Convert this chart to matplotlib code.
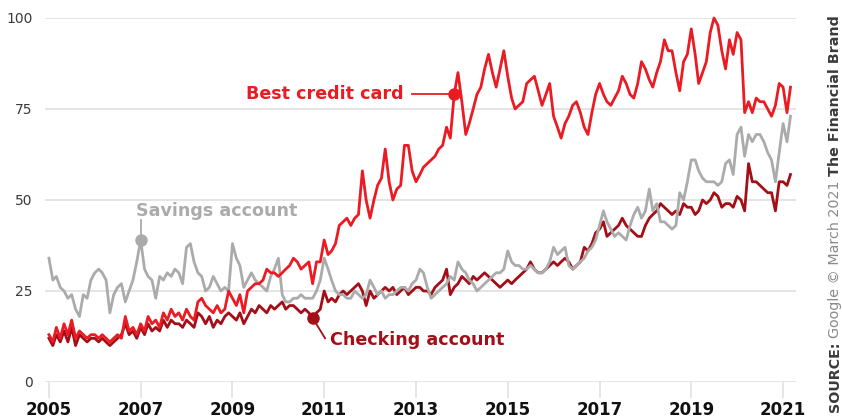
import numpy as np
import pandas as pd
import matplotlib
matplotlib.use('Agg')
import matplotlib.pyplot as plt

# Monthly Google search interest, Jan 2005 - Mar 2021
credit_card = [
    13, 11, 15, 12, 16, 13, 17, 12, 14, 13, 12, 13,   # 2005
    13, 12, 13, 12, 11, 12, 13, 12, 18, 14, 15, 13,   # 2006
    16, 14, 18, 16, 17, 15, 19, 17, 20, 18, 19, 17,   # 2007
    20, 18, 17, 22, 23, 21, 20, 19, 21, 19, 20, 25,   # 2008
    23, 21, 24, 19, 25, 26, 27, 27, 28, 31, 30, 30,   # 2009
    29, 30, 31, 32, 34, 33, 31, 32, 33, 27, 33, 33,   # 2010
    39, 35, 36, 38, 43, 44, 45, 43, 45, 46, 58, 50,   # 2011
    45, 50, 54, 56, 64, 55, 50, 53, 54, 65, 65, 58,   # 2012
    55, 57, 59, 60, 61, 62, 64, 65, 70, 67, 79, 85,   # 2013
    77, 68, 71, 75, 79, 81, 86, 90, 85, 81, 86, 91,   # 2014
    84, 78, 75, 76, 77, 82, 83, 84, 80, 76, 79, 82,   # 2015
    73, 70, 67, 71, 73, 76, 77, 74, 70, 68, 74, 79,   # 2016
    82, 79, 77, 76, 78, 80, 84, 82, 79, 78, 82, 88,   # 2017
    86, 83, 81, 85, 88, 94, 91, 91, 85, 80, 88, 90,   # 2018
    97, 90, 82, 85, 88, 96, 100, 98, 91, 86, 94, 90,  # 2019
    96, 94, 74, 77, 74, 78, 77, 77, 75, 73, 76, 82,   # 2020
    81, 74, 81,                                       # 2021
]
savings = [
    34, 28, 29, 26, 25, 23, 24, 20, 18, 24, 23, 28,
    30, 31, 30, 28, 19, 24, 26, 27, 22, 25, 28, 33,
    39, 31, 29, 28, 23, 29, 28, 30, 29, 31, 30, 27,
    37, 38, 33, 30, 29, 25, 26, 29, 27, 25, 26, 25,
    38, 34, 32, 26, 28, 30, 28, 27, 26, 25, 29, 31,
    34, 24, 22, 22, 23, 23, 24, 23, 23, 23, 25, 28,
    34, 31, 28, 25, 24, 24, 23, 23, 25, 24, 23, 24,
    28, 26, 24, 25, 23, 24, 24, 25, 26, 26, 25, 27,
    28, 31, 30, 26, 23, 24, 25, 26, 27, 29, 28, 33,
    31, 30, 28, 27, 25, 26, 27, 28, 29, 30, 30, 31,
    36, 33, 32, 32, 31, 31, 32, 31, 30, 30, 31, 33,
    37, 35, 36, 37, 32, 31, 32, 33, 34, 36, 37, 39,
    43, 47, 44, 42, 40, 41, 40, 39, 43, 46, 48, 45,
    47, 53, 47, 49, 44, 44, 43, 42, 43, 52, 50, 55,
    61, 61, 58, 56, 55, 55, 55, 54, 55, 60, 61, 57,
    68, 70, 62, 68, 66, 68, 68, 66, 63, 61, 55, 63,
    71, 66, 73,
]
checking = [
    12, 10, 13, 11, 14, 11, 15, 10, 13, 12, 11, 12,
    12, 11, 12, 11, 10, 11, 12, 13, 16, 13, 14, 12,
    15, 13, 16, 14, 15, 14, 17, 15, 17, 16, 16, 15,
    17, 16, 15, 19, 18, 16, 18, 15, 17, 16, 18, 19,
    18, 17, 19, 16, 18, 20, 19, 21, 20, 19, 21, 20,
    21, 22, 20, 21, 21, 20, 19, 20, 19, 17.6, 19, 20,
    25, 22, 23, 22, 24, 25, 24, 25, 26, 27, 25, 21,
    25, 23, 24, 25, 26, 25, 26, 24, 25, 26, 24, 25,
    26, 26, 25, 25, 24, 26, 27, 28, 31, 24, 26, 27,
    29, 28, 27, 29, 28, 29, 30, 29, 28, 27, 26, 27,
    28, 27, 28, 29, 30, 31, 33, 31, 30, 30, 31, 32,
    33, 32, 33, 34, 33, 31, 32, 33, 37, 36, 38, 41,
    42, 44, 40, 41, 42, 43, 45, 43, 42, 41, 40, 40,
    43, 45, 46, 47, 49, 48, 47, 46, 47, 46, 49, 48,
    48, 46, 47, 50, 49, 50, 52, 51, 48, 49, 49, 48,
    51, 50, 47, 60, 55, 55, 54, 53, 52, 52, 47, 55,
    55, 54, 57,
]
year_ticks = list(range(2005, 2022, 2))
y_ticks = [0, 25, 50, 75, 100]

RED = '#ea1b23'
DARK_RED = '#a30e17'
GREY = '#ababab'

months = pd.date_range('2005-01-01', periods=len(credit_card), freq='MS')

fig = plt.figure(figsize=(8.42, 4.2), dpi=100)
ax = fig.add_axes([0.0538, 0.0905, 0.8913, 0.8667])

# lines
kw = dict(lw=2.0, solid_joinstyle='round', clip_on=False)
ax.plot(months, checking, color=DARK_RED, zorder=3, **kw)
ax.plot(months, savings, color=GREY, zorder=4, **kw)
ax.plot(months, credit_card, color=RED, zorder=5, **kw)

ax.set_xlim(pd.Timestamp('2004-12-03'), pd.Timestamp('2021-04-12'))
ax.set_ylim(0, 100)

ax.set_yticks(y_ticks)
ax.set_yticklabels([str(v) for v in y_ticks])
ax.yaxis.grid(True, color='#e2e2e2', lw=1.3)
ax.set_axisbelow(True)
ax.tick_params(axis='y', length=0, pad=9, labelsize=10, labelcolor='#3a3a3a')

ax.set_xticks([pd.Timestamp(f'{y}-01-01') for y in year_ticks])
ax.set_xticklabels([str(y) for y in year_ticks], fontweight='bold', fontsize=12)
ax.tick_params(axis='x', length=11.5, width=1.2, color='#e2e2e2', pad=2, labelcolor='#111111')

for s in ax.spines.values():
    s.set_visible(False)

# direct labels
i_cc, i_sav, i_chk = 106, 24, 69

ax.plot([pd.Timestamp('2012-11-28'), months[i_cc]], [credit_card[i_cc]] * 2, color=RED, lw=1.3, zorder=6)
ax.plot(months[i_cc], credit_card[i_cc], 'o', color=RED, ms=8, zorder=7)
ax.text(pd.Timestamp('2012-09-27'), credit_card[i_cc], 'Best credit card', color=RED,
        fontsize=12.6, fontweight='bold', ha='right', va='center')

ax.plot([months[i_sav]] * 2, [savings[i_sav], 44.5], color=GREY, lw=1.3, zorder=6)
ax.plot(months[i_sav], savings[i_sav], 'o', color=GREY, ms=8, zorder=7)
ax.text(pd.Timestamp('2008-08-28'), 47, 'Savings account', color=GREY,
        fontsize=12.6, fontweight='bold', ha='center', va='center')

ax.plot([months[i_chk], pd.Timestamp('2011-01-08')], [checking[i_chk], 12], color=DARK_RED, lw=1.3, zorder=6)
ax.plot(months[i_chk], checking[i_chk], 'o', color=DARK_RED, ms=8, zorder=7)
ax.text(pd.Timestamp('2011-02-17'), 11.5, 'Checking account', color=DARK_RED,
        fontsize=12.6, fontweight='bold', ha='left', va='center')

# vertical source note
t1 = fig.text(0.9917, 0.018, 'SOURCE:', rotation=90, ha='center', va='bottom',
              fontsize=10.3, fontweight='bold', color='#3a3a3a')
t2 = ax.annotate('Google \u00a9 March 2021', xy=(0.5, 1), xycoords=t1, xytext=(0, 3),
                 textcoords='offset points', rotation=90, ha='center', va='bottom',
                 fontsize=10.3, color='#8a8a8a', annotation_clip=False)
t3 = ax.annotate('The Financial Brand', xy=(0.5, 1), xycoords=t2, xytext=(0, 3),
                 textcoords='offset points', rotation=90, ha='center', va='bottom',
                 fontsize=10.3, fontweight='bold', color='#3a3a3a', annotation_clip=False)

fig.savefig('out.png', dpi=100)
